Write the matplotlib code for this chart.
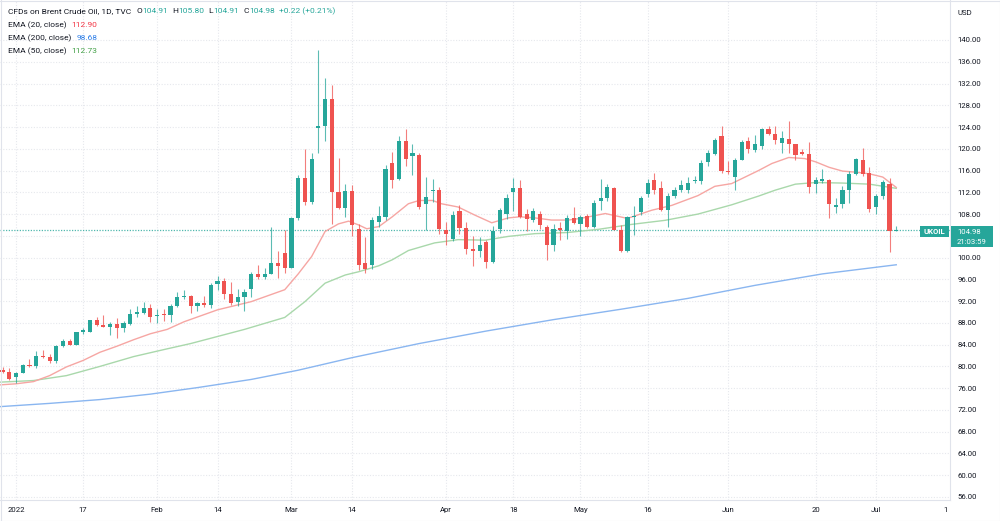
import matplotlib
matplotlib.use("Agg")
import matplotlib.pyplot as plt
from matplotlib.patches import Rectangle
from matplotlib.lines import Line2D

plt.rcParams['font.family'] = ['Roboto', 'DejaVu Sans']

# ---------------- data ----------------
bar_index = list(range(-2, 132))
opens = [79.3, 78.95, 78.0, 78.8, 80.1, 80.0, 82.0, 81.8, 80.9, 83.7,
         84.7, 84.0, 86.3, 86.4, 88.5, 87.6, 87.3, 87.8, 87.0, 87.8,
         89.7, 89.8, 90.8, 89.2, 89.5, 89.4, 91.1, 92.7, 92.85, 91.1,
         91.6, 91.3, 95.2, 95.7, 93.3, 91.8, 92.8, 94.2, 97.0, 96.4,
         97.0, 99.0, 100.8, 98.0, 107.2, 114.6, 110.3, 123.8, 124.1, 129.2,
         112.0, 109.2, 112.2, 105.3, 99.0, 98.7, 106.5, 107.5, 117.4, 114.4,
         121.4, 118.7, 118.9, 109.9, 112.2, 112.5, 105.1, 103.5, 108.5, 105.5,
         101.6, 101.2, 102.9, 99.2, 105.3, 108.1, 112.1, 112.8, 108.1, 107.0,
         108.1, 105.6, 102.4, 105.4, 104.9, 107.2, 106.1, 107.6, 105.7, 110.4,
         111.0, 112.8, 105.0, 101.3, 107.5, 108.3, 111.6, 114.2, 112.8, 108.7,
         111.3, 112.5, 112.5, 114.0, 114.1, 117.5, 119.1, 122.3, 116.0, 114.8,
         118.0, 121.4, 119.8, 120.5, 123.6, 122.8, 121.1, 121.8, 120.8, 119.4,
         119.0, 113.6, 114.1, 114.3, 109.3, 109.9, 112.5, 115.4, 118.0, 115.5,
         109.3, 111.4, 113.5, 104.91]
highs = [79.8, 79.7, 78.9, 80.5, 81.3, 82.8, 83.1, 82.3, 84.0, 85.1,
         85.0, 86.4, 87.0, 88.6, 89.1, 89.5, 88.2, 88.9, 88.4, 90.5,
         91.1, 91.8, 91.4, 90.5, 90.5, 91.4, 93.7, 94.0, 93.2, 91.9,
         93.0, 95.4, 96.7, 96.2, 95.6, 94.3, 94.3, 97.3, 98.6, 98.0,
         105.6, 101.2, 105.0, 107.5, 115.2, 119.9, 119.2, 138.2, 133.1, 131.7,
         118.3, 113.6, 113.3, 106.2, 103.8, 107.5, 109.4, 117.0, 119.5, 122.3,
         123.7, 120.8, 119.2, 114.8, 114.5, 112.9, 106.5, 108.5, 109.6, 106.6,
         104.0, 103.8, 103.2, 105.8, 109.2, 111.7, 114.6, 114.3, 108.9, 109.1,
         108.6, 105.9, 106.1, 106.6, 107.9, 109.3, 107.8, 108.0, 110.5, 114.4,
         113.5, 113.0, 106.0, 107.7, 109.4, 111.4, 114.4, 115.6, 114.0, 111.9,
         113.0, 114.2, 114.8, 115.0, 118.0, 119.8, 121.9, 124.1, 117.7, 118.3,
         121.6, 122.1, 122.5, 123.8, 124.1, 124.1, 123.3, 125.1, 120.9, 119.9,
         121.2, 114.8, 116.2, 114.4, 111.0, 113.1, 116.0, 118.3, 120.2, 116.6,
         111.7, 114.2, 114.7, 105.80]
lows = [78.8, 77.5, 77.0, 78.7, 79.8, 79.7, 81.5, 80.7, 80.7, 83.6,
        83.9, 83.9, 86.0, 86.4, 87.4, 87.2, 85.8, 85.2, 86.3, 87.7,
        89.1, 89.7, 88.1, 87.9, 88.3, 88.2, 91.0, 92.3, 89.9, 90.2,
        91.0, 90.8, 94.1, 92.4, 91.3, 91.1, 90.2, 92.7, 96.0, 96.0,
        97.0, 96.2, 97.2, 98.0, 107.0, 109.6, 109.9, 119.3, 121.5, 106.1,
        109.0, 107.4, 104.0, 97.7, 97.2, 97.9, 105.7, 107.0, 112.7, 114.2,
        116.8, 115.2, 109.0, 105.0, 110.3, 104.3, 102.4, 103.1, 104.3, 100.6,
        98.4, 100.2, 98.0, 99.0, 104.6, 107.1, 108.6, 107.2, 104.9, 106.5,
        105.3, 99.6, 101.3, 103.3, 103.4, 106.2, 103.9, 105.5, 105.5, 108.8,
        110.4, 105.0, 101.1, 101.1, 104.2, 107.8, 111.1, 111.7, 108.5, 105.7,
        110.9, 112.0, 111.9, 113.8, 113.6, 116.9, 118.9, 115.5, 115.4, 112.5,
        118.0, 119.2, 119.5, 120.0, 122.5, 120.9, 119.2, 119.2, 118.0, 118.8,
        111.8, 111.8, 113.8, 107.2, 108.2, 109.1, 110.0, 115.2, 115.0, 108.4,
        108.0, 110.8, 101.0, 104.91]
closes = [78.9, 77.7, 78.8, 80.2, 80.0, 82.0, 81.7, 80.9, 83.7, 84.7,
          84.0, 86.3, 86.6, 88.5, 87.6, 87.3, 87.8, 87.0, 87.9, 89.7,
          90.0, 90.7, 89.1, 89.4, 89.4, 91.1, 92.8, 93.0, 91.1, 91.6,
          91.3, 94.9, 95.7, 93.3, 91.7, 92.8, 93.6, 97.0, 96.4, 97.0,
          99.0, 98.4, 98.0, 107.2, 114.6, 110.3, 118.1, 124.1, 129.2, 112.0,
          109.2, 112.2, 106.0, 98.7, 97.9, 106.9, 107.7, 116.2, 114.2, 121.4,
          118.2, 119.2, 109.3, 111.1, 112.5, 105.3, 104.3, 107.9, 105.5, 101.5,
          101.3, 102.3, 99.2, 104.8, 108.8, 111.0, 112.7, 107.5, 107.1, 108.6,
          105.9, 102.4, 105.2, 105.0, 107.3, 106.4, 107.5, 105.7, 110.0, 110.9,
          112.9, 105.1, 101.3, 107.5, 107.7, 111.0, 113.7, 112.5, 108.7, 111.3,
          112.5, 113.3, 113.7, 114.3, 117.3, 119.2, 121.7, 116.0, 115.7, 118.0,
          121.2, 119.9, 120.9, 123.7, 122.8, 121.7, 122.0, 120.8, 118.8, 119.0,
          113.0, 114.2, 114.5, 109.9, 109.6, 112.4, 115.4, 118.1, 115.4, 109.0,
          111.3, 113.9, 104.9, 104.98]

ema20_x = [-2.4, 0, 2.6, 5, 7.5, 10, 12.5, 15, 17.5, 20, 22.5, 25, 30, 35, 40, 42, 44, 46,
           48, 49.5, 51, 52.2, 54, 56, 58.4, 60, 62, 63.3, 65.8, 68.3, 70.8, 73.3, 75, 77.2,
           79.7, 82.2, 84, 87.7, 91, 94.6, 97.6, 101.5, 104, 106.5, 108.5, 110.5, 112.5, 115,
           117.4, 119, 121, 123, 125, 127, 129, 131]
ema20_y = [76.6, 76.8, 77.2, 78.3, 79.9, 81.1, 82.6, 83.7, 84.9, 86.0, 86.8, 88.2, 90.4, 91.9,
           94.1, 97.0, 100.2, 104.8, 106.2, 106.7, 106.0, 105.3, 105.7, 107.5, 109.9, 110.5,
           110.5, 109.9, 109.3, 107.8, 106.4, 107.3, 107.5, 107.3, 106.9, 106.9, 107.2, 108.1,
           107.2, 108.7, 109.6, 111.4, 113.1, 113.6, 114.8, 116.0, 117.3, 118.4, 118.2, 117.6,
           116.6, 115.9, 115.7, 115.4, 114.8, 112.9]
ema50_x = [-2.4, 2.6, 7.5, 12.5, 17.5, 22.4, 26, 34, 40, 43, 46, 49, 51, 54, 56, 58.4, 62.3,
           65.8, 69.8, 73.3, 77.2, 82, 86.7, 91.6, 96.6, 101.5, 106.5, 110.5, 113, 116, 119,
           123, 127, 131]
ema50_y = [77.1, 77.4, 78.3, 80.0, 81.8, 83.2, 84.2, 86.8, 89.0, 91.9, 95.3, 96.8, 97.4, 98.5,
           99.6, 101.3, 102.7, 103.3, 103.2, 103.9, 104.4, 104.6, 105.2, 106.1, 106.85, 108.0,
           109.7, 111.3, 112.4, 113.5, 113.8, 113.7, 113.5, 112.73]
ema200_x = [-2.4, 5, 12.5, 20, 27, 35, 42, 50, 60, 70, 80, 90, 100, 110, 120, 131]
ema200_y = [72.6, 73.2, 73.9, 74.9, 76.1, 77.6, 79.3, 81.6, 84.2, 86.5, 88.6, 90.5, 92.5,
            94.9, 97.0, 98.68]

date_tick_pos = [0, 10, 21, 30, 41, 50, 64, 74, 84, 94, 106, 119, 128]
date_tick_lbl = ['2022', '17', 'Feb', '14', 'Mar', '14', 'Apr', '18', 'May', '16', 'Jun', '20', 'Jul']
price_ticks = list(range(56, 141, 4))
last_price = 104.98

# ---------------- styling ----------------
W, H = 1000, 521
UP, DOWN = '#26a69a', '#ef5350'
TXT = '#131722'
GRID = '#e6e8ed'
FS = 5.6

fig = plt.figure(figsize=(W / 100, H / 100), dpi=100)
fig.patch.set_facecolor('white')
ax = fig.add_axes([0, 21 / H, 950 / W, 500 / H])
ax.set_xlim(-2.38, 139.0)
ax.set_ylim(55.44, 147.35)

# grid
ax.set_yticks(price_ticks)
ax.set_yticklabels([f'{v:.2f}' for v in price_ticks])
ax.set_xticks(date_tick_pos)
ax.set_xticklabels(date_tick_lbl)
ax.grid(True, color=GRID, linestyle=(0, (1, 1.5)), linewidth=0.8)
ax.set_axisbelow(True)
ax.yaxis.tick_right()
ax.tick_params(axis='y', length=0, pad=5.2, labelsize=FS, labelcolor=TXT)
ax.tick_params(axis='x', length=0, pad=5.0, labelsize=FS, labelcolor=TXT)
for s in ['left', 'top']:
    ax.spines[s].set_visible(False)
for s in ['right', 'bottom']:
    ax.spines[s].set_color('#e0e3eb')
    ax.spines[s].set_linewidth(0.8)

# EMA lines
ax.plot(ema200_x, ema200_y, color='#8ab6f0', lw=1.0, zorder=2)
ax.plot(ema50_x, ema50_y, color='#a9d8ab', lw=1.0, zorder=2)
ax.plot(ema20_x, ema20_y, color='#f6a6a3', lw=1.0, zorder=2)

# last price dotted line
ax.axhline(last_price, color=UP, lw=0.9, linestyle=(0, (1, 1.2)), alpha=0.8, zorder=1.5)

# candles
cols = [UP if c >= o else DOWN for o, c in zip(opens, closes)]
ax.vlines(bar_index, lows, highs, colors=cols, lw=0.8, alpha=0.75, zorder=3)
bottoms = [min(o, c) for o, c in zip(opens, closes)]
heights = [max(abs(c - o), 0.18) for o, c in zip(opens, closes)]
ax.bar(bar_index, heights, bottom=bottoms, width=0.62, color=cols, linewidth=0, zorder=4)

# ---------------- texts ----------------
renderer = fig.canvas.get_renderer()


def seq_text(x_px, y_px, parts):
    x = x_px
    for s, color, gap in parts:
        t = fig.text(x / W, 1 - y_px / H, s, color=color, fontsize=FS + 0.4, va='center', ha='left')
        bb = t.get_window_extent(renderer=renderer)
        x += bb.width + gap


seq_text(8, 11, [('CFDs on Brent Crude Oil, 1D, TVC', TXT, 5),
                 ('O', TXT, 0.5), ('104.91', UP, 4),
                 ('H', TXT, 0.5), ('105.80', UP, 4),
                 ('L', TXT, 0.5), ('104.91', UP, 4),
                 ('C', TXT, 0.5), ('104.98', UP, 4),
                 ('+0.22 (+0.21%)', UP, 0)])
seq_text(8, 25, [('EMA (20, close)', TXT, 5), ('112.90', '#f23645', 0)])
seq_text(8, 38, [('EMA (200, close)', TXT, 5), ('98.68', '#2f7fe8', 0)])
seq_text(8, 51, [('EMA (50, close)', TXT, 5), ('112.73', '#43a047', 0)])

fig.text(957 / W, 1 - 13 / H, 'USD', color=TXT, fontsize=FS, va='center', ha='left')
fig.text(946 / W, 1 - 510 / H, '1', color=TXT, fontsize=FS, va='center', ha='center')

# price labels on the right
fig.add_artist(Rectangle((920 / W, 1 - 237 / H), 29 / W, 11 / H, transform=fig.transFigure,
                         facecolor=UP, edgecolor='none', zorder=5))
fig.text(934.5 / W, 1 - 231.8 / H, 'UKOIL', color='white', fontsize=FS, fontweight='bold',
         va='center', ha='center', zorder=6)
fig.add_artist(Rectangle((951 / W, 1 - 247 / H), 42 / W, 21 / H, transform=fig.transFigure,
                         facecolor=UP, edgecolor='none', zorder=5))
fig.text(957 / W, 1 - 231.5 / H, f'{last_price:.2f}', color='white', fontsize=FS,
         va='center', ha='left', zorder=6)
fig.text(957 / W, 1 - 241.5 / H, '21:03:59', color='white', fontsize=FS,
         va='center', ha='left', zorder=6)

# outer frame
fig.add_artist(Line2D([0, 1], [0.5 / H, 0.5 / H], transform=fig.transFigure, color='#e0e3eb', lw=0.8))
fig.add_artist(Line2D([999.5 / W, 999.5 / W], [0, 1], transform=fig.transFigure, color='#e0e3eb', lw=0.8))
fig.add_artist(Line2D([0, 1], [1 - 0.5 / H, 1 - 0.5 / H], transform=fig.transFigure, color='#e0e3eb', lw=0.8))
fig.add_artist(Line2D([0.5 / W, 0.5 / W], [0, 1], transform=fig.transFigure, color='#e0e3eb', lw=0.8))

fig.savefig('out.png', dpi=100, facecolor='white')
